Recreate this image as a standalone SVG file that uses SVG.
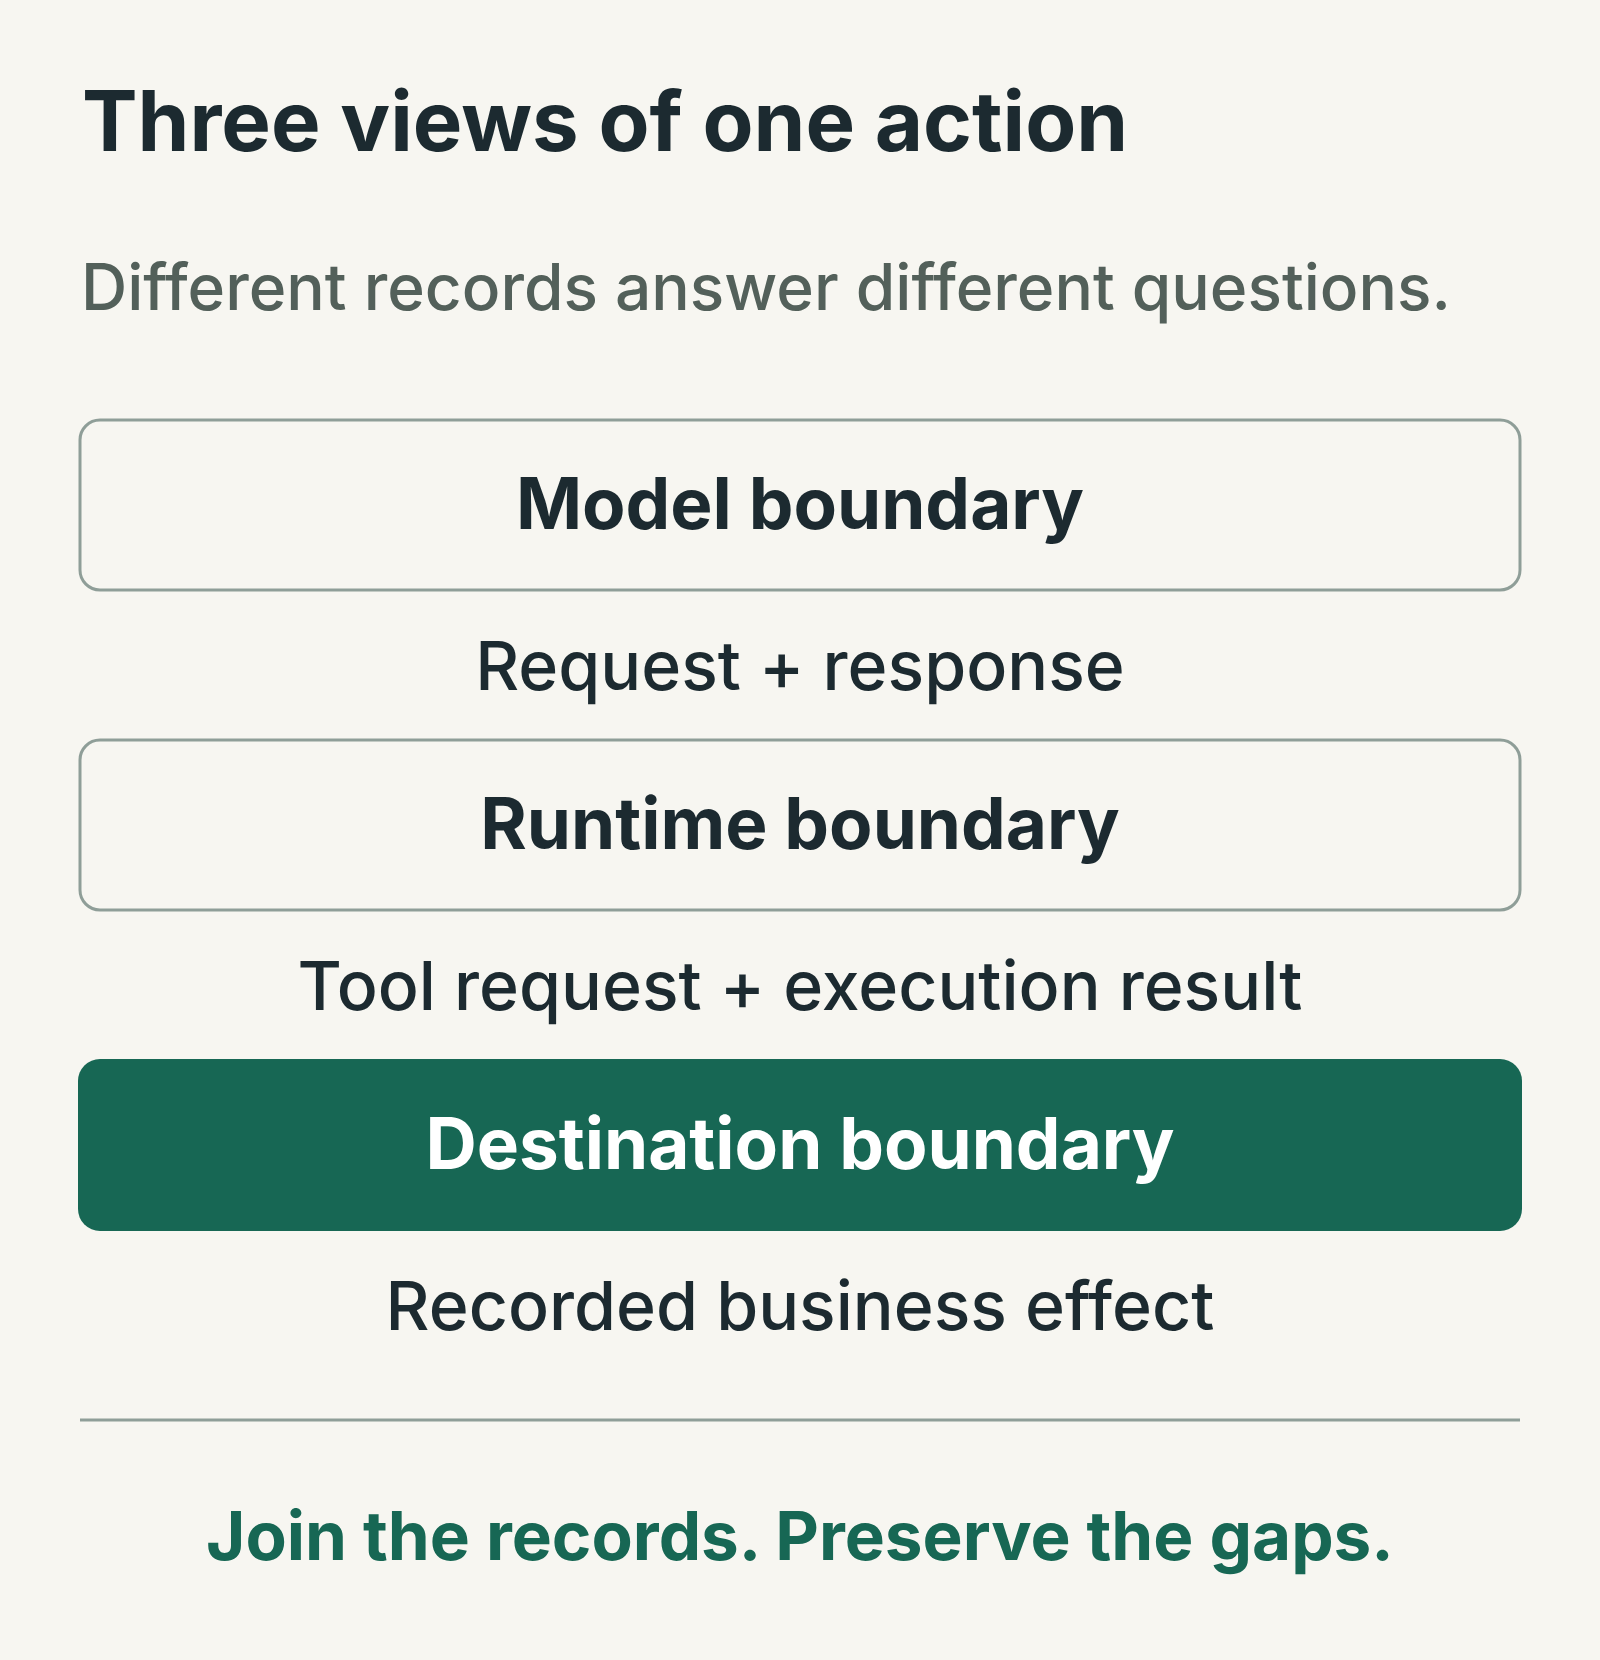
<svg xmlns="http://www.w3.org/2000/svg" width="1600" height="1660" viewBox="0 0 1600 1660">
<style>
text{font-family:Inter,"Noto Sans","Liberation Sans",sans-serif;}
.title{font-size:83.3px;font-weight:700;fill:#1c2a30;}
.sub{font-size:64px;font-weight:500;fill:#53605a;}
.box{fill:none;stroke:#8f9e98;stroke-width:3;}
.boxdark{fill:#176754;}
.lbl{font-size:71px;font-weight:700;fill:#1c2a30;text-anchor:middle;}
.lblw{font-size:71px;font-weight:700;fill:#ffffff;text-anchor:middle;}
.note{font-size:68px;font-weight:500;fill:#1c2a30;text-anchor:middle;}
.foot{font-size:67.4px;font-weight:700;fill:#176754;text-anchor:middle;}
</style>
<rect x="0" y="0" width="1600" height="1660" fill="#f7f6f1"/>
<text class="title" x="82" y="151">Three views of one action</text>
<text class="sub" x="81" y="310">Different records answer different questions.</text>
<g id="model-boundary">
<rect class="box" x="80" y="420" width="1440" height="170" rx="20"/>
<text class="lbl" x="800" y="529">Model boundary</text>
</g>
<g id="connectors">
<text class="note" x="800" y="690">Request + response</text>
<text class="note" x="800" y="1010">Tool request + execution result</text>
</g>
<g id="runtime-boundary">
<rect class="box" x="80" y="740" width="1440" height="170" rx="20"/>
<text class="lbl" x="800" y="849">Runtime boundary</text>
</g>
<g id="destination-boundary">
<rect class="boxdark" x="78" y="1059" width="1444" height="172" rx="22"/>
<text class="lblw" x="800" y="1169">Destination boundary</text>
</g>
<text class="note" x="800" y="1330">Recorded business effect</text>
<line x1="80" y1="1420" x2="1520" y2="1420" stroke="#8f9e98" stroke-width="3"/>
<text class="foot" x="800" y="1560">Join the records. Preserve the gaps.</text>
</svg>
